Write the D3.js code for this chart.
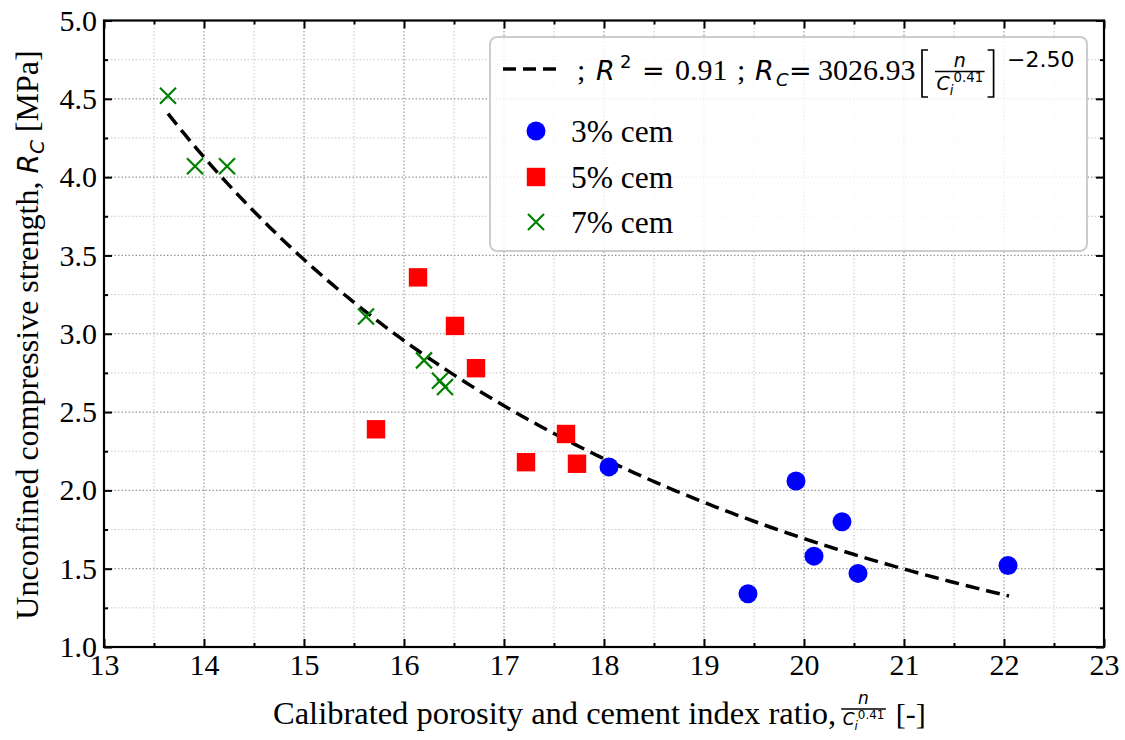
<!DOCTYPE html>
<html><head><meta charset="utf-8">
<script src="https://cdn.jsdelivr.net/npm/d3@7"></script>
<style>body{margin:0;background:#fff}</style>
</head><body>
<svg id="chart" width="1125" height="740"></svg>
<script>
// ---- data ----
const xTickValues = [13,14,15,16,17,18,19,20,21,22,23];
const yTickValues = [1.0,1.5,2.0,2.5,3.0,3.5,4.0,4.5,5.0];
const xTickLabels = ["13","14","15","16","17","18","19","20","21","22","23"];
const yTickLabels = ["1.0","1.5","2.0","2.5","3.0","3.5","4.0","4.5","5.0"];

const cem3X = [18.05,19.44,19.92,20.10,20.38,20.54,22.04];
const cem3Y = [2.15,1.34,2.06,1.58,1.80,1.47,1.52];
const cem5X = [16.14,16.51,16.72,15.72,17.22,17.62,17.73];
const cem5Y = [3.36,3.05,2.78,2.39,2.18,2.36,2.17];
const cem7X = [13.64,13.91,14.23,15.62,16.20,16.36,16.41];
const cem7Y = [4.52,4.07,4.07,3.11,2.83,2.70,2.66];

const seriesNames = ["3% cem","5% cem","7% cem"];
// fitted power law shown in legend: Rc = A * x^B
const fitA = 3026.93, fitB = -2.50, fitR2 = 0.91;
const fitXRange = [13.64, 22.05];

// ---- layout ----
const svg = d3.select("#chart");
const L = 104, R = 1104, T = 20.5, B = 647;
const x = d3.scaleLinear().domain([13,23]).range([L,R]);
const y = d3.scaleLinear().domain([1,5]).range([B,T]);
const serif = "'Liberation Serif','Times New Roman',serif";
const sans = "'DejaVu Sans',sans-serif";
const tickFont = 30;

const minorX = d3.range(13,23.01,0.5).filter(v=>Math.abs(v-Math.round(v))>0.01);
const minorY = d3.range(1,5.01,0.25).filter(v=>Math.abs(v*2-Math.round(v*2))>0.01);

// grid
const grid = svg.append("g");
grid.selectAll(".gxm").data(minorX).join("line")
  .attr("x1",d=>x(d)).attr("x2",d=>x(d)).attr("y1",T).attr("y2",B)
  .attr("stroke","#c8c8c8").attr("stroke-width",1).attr("stroke-dasharray","1.5,2");
grid.selectAll(".gym").data(minorY).join("line")
  .attr("y1",d=>y(d)).attr("y2",d=>y(d)).attr("x1",L).attr("x2",R)
  .attr("stroke","#c8c8c8").attr("stroke-width",1).attr("stroke-dasharray","1.5,2");
grid.selectAll(".gx").data(xTickValues).join("line")
  .attr("x1",d=>x(d)).attr("x2",d=>x(d)).attr("y1",T).attr("y2",B)
  .attr("stroke","#999").attr("stroke-width",1.2).attr("stroke-dasharray","1.5,2");
grid.selectAll(".gy").data(yTickValues).join("line")
  .attr("y1",d=>y(d)).attr("y2",d=>y(d)).attr("x1",L).attr("x2",R)
  .attr("stroke","#999").attr("stroke-width",1.2).attr("stroke-dasharray","1.5,2");

// axes (ticks inward)
function styleAxis(g){
  g.select(".domain").remove();
  g.attr("font-family",null).attr("font-size",null);
  g.selectAll(".tick line").attr("stroke","#000").attr("stroke-width",2);
  g.selectAll(".tick text").style("font-family",serif).style("font-size",tickFont+"px").attr("fill","#000");
}
svg.append("g").attr("transform",`translate(0,${B})`)
  .call(d3.axisBottom(x).tickValues(xTickValues).tickFormat((d,i)=>xTickLabels[i]).tickSize(-8).tickPadding(7))
  .call(styleAxis);
svg.append("g").attr("transform",`translate(0,${B})`)
  .call(d3.axisBottom(x).tickValues(minorX).tickFormat("").tickSize(-4)).call(styleAxis);
svg.append("g").attr("transform",`translate(0,${T})`)
  .call(d3.axisTop(x).tickValues(xTickValues).tickFormat("").tickSize(-8)).call(styleAxis);
svg.append("g").attr("transform",`translate(0,${T})`)
  .call(d3.axisTop(x).tickValues(minorX).tickFormat("").tickSize(-4)).call(styleAxis);
svg.append("g").attr("transform",`translate(${L},0)`)
  .call(d3.axisLeft(y).tickValues(yTickValues).tickFormat((d,i)=>yTickLabels[i]).tickSize(-8).tickPadding(7))
  .call(styleAxis);
svg.append("g").attr("transform",`translate(${L},0)`)
  .call(d3.axisLeft(y).tickValues(minorY).tickFormat("").tickSize(-4)).call(styleAxis);
svg.append("g").attr("transform",`translate(${R},0)`)
  .call(d3.axisRight(y).tickValues(yTickValues).tickFormat("").tickSize(-8)).call(styleAxis);
svg.append("g").attr("transform",`translate(${R},0)`)
  .call(d3.axisRight(y).tickValues(minorY).tickFormat("").tickSize(-4)).call(styleAxis);

svg.append("rect").attr("x",L).attr("y",T).attr("width",R-L).attr("height",B-T)
  .attr("fill","none").attr("stroke","#000").attr("stroke-width",2.2);

// fit curve
const fitXs = d3.range(fitXRange[0], fitXRange[1]+1e-9, (fitXRange[1]-fitXRange[0])/200);
const fitPts = fitXs.map(v=>[v, fitA*Math.pow(v,fitB)]);
svg.append("path").datum(fitPts)
  .attr("d", d3.line().x(d=>x(d[0])).y(d=>y(d[1])))
  .attr("fill","none").attr("stroke","#000").attr("stroke-width",3.5)
  .attr("stroke-dasharray","14,7");

// markers
const pts = svg.append("g");
function drawCircle(g,cx,cy){ g.append("circle").attr("cx",cx).attr("cy",cy).attr("r",9.5).attr("fill","#0000ff"); }
function drawSquare(g,cx,cy){ g.append("rect").attr("x",cx-9.2).attr("y",cy-9.2).attr("width",18.4).attr("height",18.4).attr("fill","#ff0000"); }
function drawCross(g,cx,cy){ const s=8; g.append("path").attr("d",`M${cx-s},${cy-s}L${cx+s},${cy+s}M${cx-s},${cy+s}L${cx+s},${cy-s}`).attr("stroke","#008000").attr("stroke-width",2.2).attr("fill","none"); }
cem3X.forEach((v,i)=>drawCircle(pts,x(v),y(cem3Y[i])));
cem5X.forEach((v,i)=>drawSquare(pts,x(v),y(cem5Y[i])));
cem7X.forEach((v,i)=>drawCross(pts,x(v),y(cem7Y[i])));

// text helpers
function txt(g, tx, ty, t, o){
  o = o||{};
  return g.append("text").attr("x",tx).attr("y",ty)
    .attr("font-family",o.f||serif).attr("font-size",o.s||30)
    .attr("font-style",o.i?"italic":"normal").attr("fill","#000")
    .attr("text-anchor",o.a||"start").text(t);
}
function fraction(g, x0, barY, numSize, numOff){
  // n over C_i^{0.41}
  const grp = g.append("g");
  const den = grp.append("text").attr("y",barY+numSize*0.95).attr("font-family",sans).attr("fill","#000");
  den.append("tspan").attr("font-size",numSize).attr("font-style","italic").text("C");
  den.append("tspan").attr("font-size",numSize*0.7).attr("font-style","italic").attr("dy",numSize*0.3).text("i");
  den.append("tspan").attr("font-size",numSize*0.7).attr("dy",-numSize*0.68).text("0.41");
  const dw = den.node().getComputedTextLength();
  const w = dw + 3;
  den.attr("x", x0+1.5);
  grp.append("line").attr("x1",x0).attr("x2",x0+w).attr("y1",barY).attr("y2",barY)
    .attr("stroke","#000").attr("stroke-width",1.3);
  txt(grp, x0+w/2, barY-numOff, "n", {f:sans, i:true, s:numSize, a:"middle"});
  return x0 + w;
}

// y label
const yl = svg.append("text").attr("transform","translate(38,335) rotate(-90)")
  .attr("text-anchor","middle").attr("font-family",serif).attr("font-size",32).attr("fill","#000");
yl.append("tspan").text("Unconfined compressive strength, ");
yl.append("tspan").attr("font-family",sans).attr("font-style","italic").attr("font-size",28).text("R");
yl.append("tspan").attr("font-family",sans).attr("font-style","italic").attr("font-size",20).attr("dy",6).text("C");
yl.append("tspan").attr("dy",-6).text(" [MPa]");

// x label
const xl = svg.append("g");
const xlt = txt(xl, 273, 724, "Calibrated porosity and cement index ratio,", {s:32.5});
const xlEnd = 273 + xlt.node().getComputedTextLength();
const fEnd = fraction(xl, xlEnd+5, 709, 17, 5);
txt(xl, fEnd+10, 724, "[-]", {s:30});

// legend
const lg = svg.append("g");
lg.append("rect").attr("x",490).attr("y",37).attr("width",597).attr("height",214).attr("rx",7)
  .attr("fill","#fff").attr("fill-opacity",0.82).attr("stroke","#cccccc").attr("stroke-width",2);
lg.append("line").attr("x1",503).attr("x2",563).attr("y1",69).attr("y2",69)
  .attr("stroke","#000").attr("stroke-width",3.5).attr("stroke-dasharray","13,7");
const lb = 80;
txt(lg, 577, lb, ";", {s:30});
txt(lg, 596, lb, "R", {f:sans, i:true, s:27});
txt(lg, 620, lb-12, "2", {f:sans, s:18});
txt(lg, 642, lb, "=", {f:sans, s:27});
txt(lg, 675, lb, "0.91", {s:30});
txt(lg, 737, lb, ";", {s:30});
txt(lg, 755, lb, "R", {f:sans, i:true, s:27});
txt(lg, 776, lb+6, "C", {f:sans, i:true, s:18});
txt(lg, 789, lb, "=", {f:sans, s:27});
txt(lg, 818, lb, "3026.93", {s:30});
function bracket(g, x0, top, bot, open){
  const w = 6;
  const d = open ? `M${x0+w},${top}H${x0}V${bot}H${x0+w}` : `M${x0},${top}H${x0+w}V${bot}H${x0}`;
  g.append("path").attr("d",d).attr("fill","none").attr("stroke","#000").attr("stroke-width",1.7);
}
bracket(lg, 922, 50, 97, true);
const lfEnd = fraction(lg, 935, 71.5, 19, 5);
bracket(lg, lfEnd+3, 50, 97, false);
txt(lg, 1007, 67, "\u22122.50", {f:sans, s:22});

const legendRows = [131,177,222];
drawCircle(lg, 536, legendRows[0]);
drawSquare(lg, 536, legendRows[1]);
drawCross(lg, 536, legendRows[2]);
legendRows.forEach((ry,i)=>{
  txt(lg, 571, ry+11, seriesNames[i], {s:31.5});
});
</script>
</body></html>
